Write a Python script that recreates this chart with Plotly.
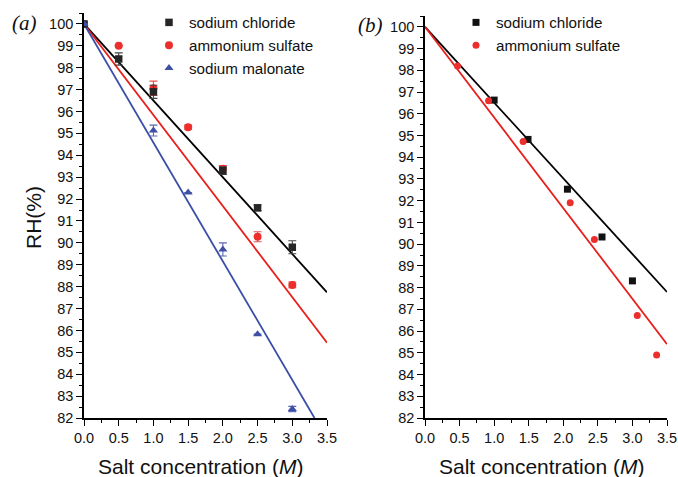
import plotly.graph_objects as go

# ---------------- data: panel (a) ----------------
conc_a = [0, 0.5, 1.0, 1.5, 2.0, 2.5, 3.0]
nacl_a = [100, 98.4, 96.9, None, 93.3, 91.6, 89.8]
nacl_a_err = [0, 0.28, 0.3, 0, 0.18, 0.13, 0.3]
as_a = [100, 99.0, 97.06, 95.28, 93.38, 90.28, 88.08]
as_a_err = [0, 0, 0.33, 0.1, 0.15, 0.23, 0.13]
sm_conc_a = [0, 1.0, 1.5, 2.0, 2.5, 3.0]
sm_a = [100, 95.13, 92.3, 89.7, 85.83, 82.41]
sm_a_err = [0, 0.25, 0, 0.3, 0, 0.12]

# fitted lines (end points)
fit_x_nacl_a = [0, 3.5]
fit_y_nacl_a = [100, 87.74]
fit_x_as_a = [0, 3.5]
fit_y_as_a = [100, 85.44]
fit_x_sm_a = [0, 3.32]
fit_y_sm_a = [100, 82.0]

# ---------------- data: panel (b) ----------------
nacl_b_x = [1.0, 1.49, 2.06, 2.56, 3.0]
nacl_b_y = [96.63, 94.82, 92.53, 90.33, 88.31]
as_b_x = [0.47, 0.92, 1.42, 2.10, 2.45, 3.07, 3.35]
as_b_y = [98.2, 96.6, 94.72, 91.91, 90.21, 86.72, 84.9]
fit_x_nacl_b = [0, 3.5]
fit_y_nacl_b = [100, 87.8]
fit_x_as_b = [0, 3.5]
fit_y_as_b = [100, 85.4]

series_names = ["sodium chloride", "ammonium sulfate", "sodium malonate"]
x_ticks = [0.0, 0.5, 1.0, 1.5, 2.0, 2.5, 3.0, 3.5]
x_tick_text = ["0.0", "0.5", "1.0", "1.5", "2.0", "2.5", "3.0", "3.5"]
y_ticks = list(range(82, 101))

BLACK = "#262626"
RED = "#ec2e2c"
BLUE = "#3e4fa6"
RED_LINE = "#e8201c"
BLUE_LINE = "#3a4ea8"

fig = go.Figure()

# fit lines panel (a)
for fx, fy, col in [(fit_x_nacl_a, fit_y_nacl_a, "black"),
                    (fit_x_as_a, fit_y_as_a, RED_LINE),
                    (fit_x_sm_a, fit_y_sm_a, BLUE_LINE)]:
    fig.add_trace(go.Scatter(x=fx, y=fy, mode="lines", line=dict(color=col, width=1.8),
                             showlegend=False, hoverinfo="skip", xaxis="x", yaxis="y"))

# markers panel (a)
fig.add_trace(go.Scatter(x=conc_a, y=as_a, mode="markers", name=series_names[1],
                         marker=dict(symbol="circle", size=8, color=RED),
                         error_y=dict(type="data", array=as_a_err, color="#e85050",
                                      thickness=1.1, width=4),
                         xaxis="x", yaxis="y", legend="legend", legendrank=2))
fig.add_trace(go.Scatter(x=conc_a, y=nacl_a, mode="markers", name=series_names[0],
                         marker=dict(symbol="square", size=7.5, color=BLACK),
                         error_y=dict(type="data", array=nacl_a_err, color="#444444",
                                      thickness=1.1, width=4),
                         xaxis="x", yaxis="y", legend="legend", legendrank=1))
fig.add_trace(go.Scatter(x=sm_conc_a, y=sm_a, mode="markers", name=series_names[2],
                         marker=dict(symbol="triangle-up", size=8, color=BLUE),
                         error_y=dict(type="data", array=sm_a_err, color="#5a68b8",
                                      thickness=1.1, width=4),
                         xaxis="x", yaxis="y", legend="legend", legendrank=3))

# panel (b)
fig.add_trace(go.Scatter(x=fit_x_nacl_b, y=fit_y_nacl_b, mode="lines",
                         line=dict(color="black", width=1.8), showlegend=False,
                         hoverinfo="skip", xaxis="x2", yaxis="y2"))
fig.add_trace(go.Scatter(x=fit_x_as_b, y=fit_y_as_b, mode="lines",
                         line=dict(color=RED_LINE, width=1.8), showlegend=False,
                         hoverinfo="skip", xaxis="x2", yaxis="y2"))
fig.add_trace(go.Scatter(x=nacl_b_x, y=nacl_b_y, mode="markers", name=series_names[0],
                         marker=dict(symbol="square", size=7, color="#111111"),
                         xaxis="x2", yaxis="y2", legend="legend2", legendrank=1))
fig.add_trace(go.Scatter(x=as_b_x, y=as_b_y, mode="markers", name=series_names[1],
                         marker=dict(symbol="circle", size=7, color=RED),
                         xaxis="x2", yaxis="y2", legend="legend2", legendrank=2))

W, H = 678, 477
tick_font = dict(family="Liberation Sans, Arial, sans-serif", size=14.5, color="#111111")

def xax(domain, anchor):
    return dict(domain=domain, anchor=anchor, range=[0, 3.5], tickvals=x_ticks,
                ticktext=x_tick_text, ticks="outside", ticklen=6, tickwidth=1.4,
                tickcolor="black", showline=True, linecolor="black", linewidth=1.6,
                showgrid=False, zeroline=False, tickfont=tick_font, automargin=False,
                minor=dict(dtick=0.25, tick0=0, ticks="outside", ticklen=3.5,
                           tickwidth=1.2, tickcolor="black", showgrid=False))

def yax(domain, anchor):
    return dict(domain=domain, anchor=anchor, range=[82, 100.5], tickvals=y_ticks,
                ticks="outside", ticklen=6, tickwidth=1.4, tickcolor="black",
                showline=True, linecolor="black", linewidth=1.6, showgrid=False,
                zeroline=False, tickfont=tick_font, automargin=False,
                minor=dict(dtick=0.5, tick0=82, ticks="outside", ticklen=3.5,
                           tickwidth=1.2, tickcolor="black", showgrid=False))

legend_font = dict(family="Liberation Sans, Arial, sans-serif", size=15.2, color="#111111")

fig.update_layout(
    width=W, height=H,
    margin=dict(l=0, r=0, t=0, b=0, autoexpand=False),
    paper_bgcolor="white", plot_bgcolor="white",
    xaxis=xax([84 / W, 327 / W], "y"),
    yaxis=yax([(H - 418) / H, (H - 13) / H], "x"),
    xaxis2=xax([425 / W, 667 / W], "y2"),
    yaxis2=yax([(H - 418) / H, (H - 16) / H], "x2"),
    legend=dict(x=149 / W, y=1 - 6 / H, xanchor="left", yanchor="top",
                bgcolor="rgba(0,0,0,0)", font=legend_font, tracegroupgap=0,
                itemwidth=30),
    legend2=dict(x=456 / W, y=1 - 6 / H, xanchor="left", yanchor="top",
                 bgcolor="rgba(0,0,0,0)", font=legend_font, tracegroupgap=0,
                 itemwidth=30),
    showlegend=True,
)

title_font = dict(family="Liberation Sans, Arial, sans-serif", size=21, color="#111111")
panel_font = dict(family="Liberation Serif, Times New Roman, serif", size=21, color="#111111")

annotations = [
    dict(text="Salt concentration (<i>M</i>)", x=200 / W, y=1 - 466 / H, xref="paper",
         yref="paper", showarrow=False, xanchor="center", yanchor="middle", font=title_font),
    dict(text="Salt concentration (<i>M</i>)", x=541 / W, y=1 - 466 / H, xref="paper",
         yref="paper", showarrow=False, xanchor="center", yanchor="middle", font=title_font),
    dict(text="RH(%)", x=33 / W, y=1 - 218 / H, xref="paper", yref="paper",
         showarrow=False, textangle=-90, xanchor="center", yanchor="middle", font=title_font),
    dict(text="<i>(a)</i>", x=24 / W, y=1 - 23 / H, xref="paper", yref="paper",
         showarrow=False, xanchor="center", yanchor="middle", font=panel_font),
    dict(text="<i>(b)</i>", x=370 / W, y=1 - 25 / H, xref="paper", yref="paper",
         showarrow=False, xanchor="center", yanchor="middle", font=panel_font),
]
fig.update_layout(annotations=annotations)

fig.write_html("out.html", config={"displayModeBar": False},
               post_script="document.body.style.margin='0px';document.body.style.overflow='hidden';")
